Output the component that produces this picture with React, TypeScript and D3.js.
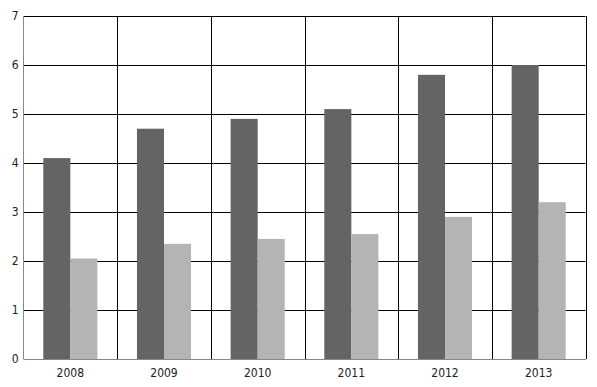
import React from "react";
import * as d3 from "d3";

const categories = ["2008", "2009", "2010", "2011", "2012", "2013"];
const seriesA = [4.1, 4.7, 4.9, 5.1, 5.8, 6.0];
const seriesB = [2.05, 2.35, 2.45, 2.55, 2.9, 3.2];
const yTicks = [0, 1, 2, 3, 4, 5, 6, 7];

const W = 597;
const H = 387;
const left = 23.5;
const right = 585.5;
const top = 16;
const bottom = 359;

export default function App() {
  const x = d3.scaleBand<string>().domain(categories).range([left, right]).paddingInner(0).paddingOuter(0);
  const y = d3.scaleLinear().domain([0, 7]).range([bottom, top]);
  const bw = x.bandwidth();
  const pad = 19.8;
  const barW = (bw - 2 * pad) / 2;
  const font = "'DejaVu Sans Condensed', 'DejaVu Sans', sans-serif";
  return (
    <svg width={W} height={H} style={{ position: "absolute", left: 0, top: 0 }}>
      <rect x={0} y={0} width={W} height={H} fill="#fff" />
      {yTicks.filter((t) => t > 0).map((t) => (
        <line key={"h" + t} x1={left} x2={right} y1={Math.round(y(t)) + 0.5} y2={Math.round(y(t)) + 0.5} stroke="#000" strokeWidth={1} />
      ))}
      {categories.map((c, i) => (
        <g key={c}>
          <rect x={x(c)! + pad} y={y(seriesA[i])} width={barW} height={bottom - y(seriesA[i])} fill="#646464" />
          <rect x={x(c)! + pad + barW} y={y(seriesB[i])} width={barW} height={bottom - y(seriesB[i])} fill="#b4b4b4" />
        </g>
      ))}
      {categories.map((c) => (
        <line key={"v" + c} x1={Math.round(x(c)! + bw) + 0.5} x2={Math.round(x(c)! + bw) + 0.5} y1={top} y2={bottom} stroke="#000" strokeWidth={1} />
      ))}
      <line x1={left} x2={left} y1={top} y2={bottom} stroke="#888" strokeWidth={1} />
      <line x1={left} x2={right + 0.5} y1={bottom + 0.5} y2={bottom + 0.5} stroke="#888" strokeWidth={1} />
      {yTicks.map((t) => (
        <text key={"yl" + t} x={18.5} y={y(t)} dy="0.35em" textAnchor="end" fontFamily={font} fontSize={12} fill="#222">
          {t}
        </text>
      ))}
      {categories.map((c) => (
        <text key={"xl" + c} x={x(c)! + bw / 2} y={377} textAnchor="middle" fontFamily={font} fontSize={12} fill="#222">
          {c}
        </text>
      ))}
    </svg>
  );
}
